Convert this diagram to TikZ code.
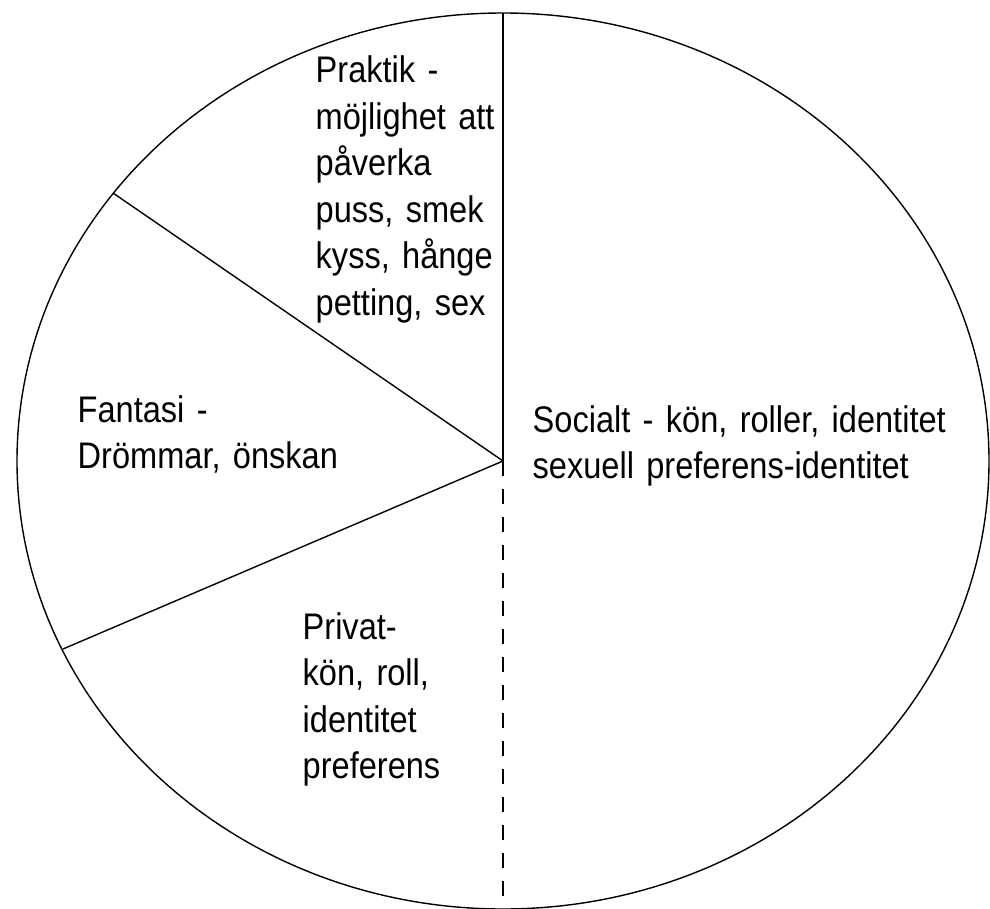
\documentclass[tikz,border=0pt]{standalone}
\usepackage{fontspec}
\setmainfont[FakeStretch=0.88]{Liberation Sans}
\begin{document}
\begin{tikzpicture}[x=1pt,y=-1pt,line width=1.4pt,
  lbl/.style={inner sep=0pt,anchor=base west,align=left,text width=480pt,
    font=\fontsize{37}{46.5}\selectfont},
  spoke/.style={line width=1.4pt},
  dashspoke/.style={line width=1.4pt,dash pattern=on 15pt off 13pt}]
\useasboundingbox (0,0) rectangle (990,909);
\clip (0,0) rectangle (990,909);
\fill[white] (0,0) rectangle (990,909);
\coordinate (c) at (503,461);
\coordinate (top) at (503,13);
\coordinate (bot) at (503,912);
\coordinate (ul) at (113,193);
\coordinate (ll) at (63,649);
\draw (c) ellipse [x radius=486pt, y radius=448pt];
\draw[spoke] (c) -- (top);
\draw[spoke] (c) -- (ul);
\draw[spoke] (c) -- (ll);
\draw[dashspoke] (c) -- (bot);
\node[lbl] (praktik) at (315,83) {Praktik -\\möjlighet att\\påverka\\puss, smek\\kyss, hånge\\petting, sex};
\node[lbl] (fantasi) at (77,422) {Fantasi -\\Drömmar, önskan};
\node[lbl] (privat) at (302,639) {Privat-\\kön, roll,\\identitet\\preferens};
\node[lbl] (socialt) at (532,432) {Socialt - kön, roller, identitet\\sexuell preferens-identitet};
\end{tikzpicture}
\end{document}
